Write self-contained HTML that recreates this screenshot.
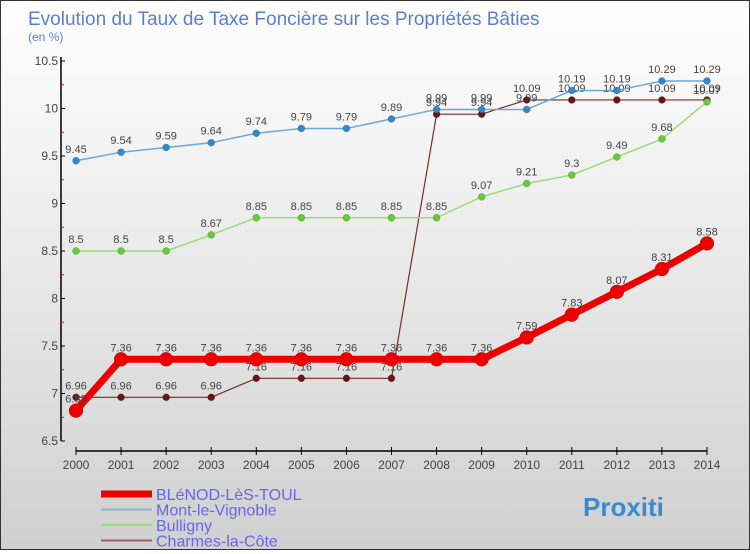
<!DOCTYPE html>
<html><head><meta charset="utf-8"><style>
body{margin:0;width:750px;height:550px;overflow:hidden;font-family:"Liberation Sans",sans-serif}
#wrap{position:relative;width:748px;height:548px;border:1px solid #333;background:linear-gradient(#fefefe,#f2f2f2 30%,#d0d0d0)}
</style></head><body>
<div id="wrap">
<svg id="c" width="748" height="548"></svg>
</div>
<script>
const years=[2000,2001,2002,2003,2004,2005,2006,2007,2008,2009,2010,2011,2012,2013,2014];
const blenod=[6.82,7.36,7.36,7.36,7.36,7.36,7.36,7.36,7.36,7.36,7.59,7.83,8.07,8.31,8.58];
const mont=[9.45,9.54,9.59,9.64,9.74,9.79,9.79,9.89,9.99,9.99,9.99,10.19,10.19,10.29,10.29];
const bulligny=[8.5,8.5,8.5,8.67,8.85,8.85,8.85,8.85,8.85,9.07,9.21,9.3,9.49,9.68,10.07];
const charmes=[6.96,6.96,6.96,6.96,7.16,7.16,7.16,7.16,9.94,9.94,10.09,10.09,10.09,10.09,10.09];
const yTicks=[6.5,7,7.5,8,8.5,9,9.5,10,10.5];
const NS="http://www.w3.org/2000/svg";
const svg=document.getElementById('c');
function X(i){return 75+i*(706-75)/14;}
function Y(v){return 440-(v-6.5)*95;}
function el(t,a,p){const e=document.createElementNS(NS,t);for(const k in a)e.setAttribute(k,a[k]);(p||svg).appendChild(e);return e;}
let t=el('text',{x:27,y:24,'font-size':19,fill:'#5a7fd0'});t.textContent='Evolution du Taux de Taxe Foncière sur les Propriétés Bâties';

t=el('text',{x:27,y:40,'font-size':12,fill:'#5a7fd0'});t.textContent='(en %)';

// axes
let a=el('line',{x1:60,y1:56,x2:60,y2:440,stroke:'#000','stroke-width':1.5});

a=el('line',{x1:75,y1:450,x2:706,y2:450,stroke:'#000','stroke-width':1.5});

yTicks.forEach((v,i)=>{
 el('line',{x1:60,y1:Y(v),x2:64,y2:Y(v),stroke:'#000'});
 if(i<yTicks.length-1)el('line',{x1:60,y1:Y(v+0.25),x2:63,y2:Y(v+0.25),stroke:'#e00'});
 const l=el('text',{x:57,y:Y(v)+4,'font-size':12,'text-anchor':'end',fill:'#444'});l.textContent=String(v);
 
});
years.forEach((y,i)=>{
 el('line',{x1:X(i),y1:446,x2:X(i),y2:454,stroke:'#000'});
 const l=el('text',{x:X(i),y:468,'font-size':12,'text-anchor':'middle',fill:'#444'});l.textContent=String(y);
 
});
function series(name,data,color,w,r,dot){
 const g=el('g',{});
 el('polyline',{points:data.map((v,i)=>X(i)+','+Y(v)).join(' '),fill:'none',stroke:color,'stroke-width':w,'stroke-linejoin':'round'},g);
 data.forEach((v,i)=>{
  const c=el('circle',{cx:X(i),cy:Y(v),r:r,fill:dot,stroke:'rgba(0,0,0,0.3)','stroke-width':0.5},g);
  
  const l=el('text',{x:X(i),y:Y(v)-8,'font-size':11,'text-anchor':'middle',fill:'#444'},g);l.textContent=String(v);
 });
}
series('charmes',charmes,'#7a2a2a',1.2,3.5,'#6a1515');
series('bulligny',bulligny,'#99dd77',1.5,3.5,'#66cc33');
series('mont',mont,'#6aa8d8',1.5,3.5,'#3388cc');
series('blenod',blenod,'#ee0000',7,7,'#ee0000');
const leg=[['BLéNOD-LèS-TOUL','#ee0000',7],['Mont-le-Vignoble','#8ab8d8',2],['Bulligny','#99dd77',2],['Charmes-la-Côte','#996060',2]];
leg.forEach((L,i)=>{
 const g=el('g',{});
 const y=493+i*15.5;
 el('line',{x1:100,y1:y,x2:151,y2:y,stroke:L[1],'stroke-width':L[2]},g);
 const tx=el('text',{x:155,y:y+6,'font-size':16,fill:'#6666ee'},g);tx.textContent=L[0];
});
t=el('text',{x:582,y:515,'font-size':26,'font-weight':'bold',fill:'#3a8ad0'});t.textContent='Proxiti';

</script>
</body></html>
